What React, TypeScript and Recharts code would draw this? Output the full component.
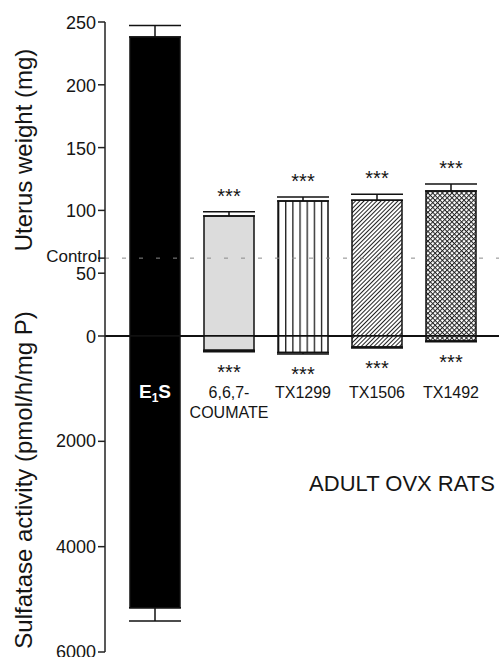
import React from 'react';
import { BarChart, Bar, XAxis, YAxis, ReferenceLine, ErrorBar, Cell, LabelList } from 'recharts';

// Treatment groups (adult OVX rats)
const categories = ['E1S', '6,6,7-COUMATE', 'TX1299', 'TX1506', 'TX1492'];
const nameLines = [['E1S'], ['6,6,7-', 'COUMATE'], ['TX1299'], ['TX1506'], ['TX1492']];

// Upper panel: uterus weight (mg), mean and SEM
const uterusWeight = [238, 95.5, 107.5, 108, 115.5];
const uterusErr = [9.3, 3.5, 3.2, 4.8, 5.6];
const controlWeight = 62;
const uterusTicks = [0, 50, controlWeight, 100, 150, 200, 250];

// Lower panel: sulfatase activity (pmol/h/mg P), mean and SEM
const sulfatase = [5160, 270, 315, 210, 95];
const sulfataseErr = [250, 30, 25, 20, 15];
const sulfataseTicks = [2000, 4000, 6000];

const significance = ['', '***', '***', '***', '***'];

const font = '"Liberation Sans", Arial, Helvetica, sans-serif';
const ink = '#151515';

const uterusData = categories.map((name, i) => ({ name, value: uterusWeight[i], err: [0, uterusErr[i]] }));
const sulfataseData = categories.map((name, i) => ({ name, value: sulfatase[i], err: [0, sulfataseErr[i]] }));

const fillsFor = (p: string) => ['#000', '#dcdcdc', `url(#${p}-vlines)`, `url(#${p}-diag)`, `url(#${p}-cross)`];

const Patterns = ({ prefix }: { prefix: string }) => (
  <defs>
    <pattern id={`${prefix}-vlines`} patternUnits="objectBoundingBox" width={1 / 7} height={1}>
      <rect x={0} y={0} width={20} height={2000} fill="#fff" />
      <line x1={0.6} y1={0} x2={0.6} y2={2000} stroke="#111" strokeWidth={1.3} />
    </pattern>
    <pattern id={`${prefix}-diag`} patternUnits="userSpaceOnUse" width={3} height={3} patternTransform="rotate(45)">
      <rect x={0} y={0} width={3} height={3} fill="#fff" />
      <line x1={0.5} y1={0} x2={0.5} y2={3} stroke="#222" strokeWidth={1} />
    </pattern>
    <pattern id={`${prefix}-cross`} patternUnits="userSpaceOnUse" width={3.4} height={3.4} patternTransform="rotate(45)">
      <rect x={0} y={0} width={3.4} height={3.4} fill="#fff" />
      <line x1={0.5} y1={0} x2={0.5} y2={3.4} stroke="#222" strokeWidth={1} />
      <line x1={0} y1={0.5} x2={3.4} y2={0.5} stroke="#222" strokeWidth={1} />
    </pattern>
  </defs>
);

const barBox = (props: any) => {
  const vb = props.viewBox || {};
  const x = props.x ?? vb.x;
  const y = props.y ?? vb.y;
  const w = props.width ?? vb.width;
  const h = props.height ?? vb.height;
  return { x: Number(x), w: Number(w), top: Math.min(y, y + h), bottom: Math.max(y, y + h), h: Math.abs(h) };
};

const UterusTick = (props: any) => {
  const { x, y, payload } = props;
  const isControl = payload.value === controlWeight;
  return (
    <text
      x={isControl ? x + 5 : x}
      y={y}
      dy={isControl ? 4 : 7}
      textAnchor="end"
      fontSize={isControl ? 17 : 18}
      fill={ink}
      fontFamily={font}
    >
      {isControl ? 'Control' : payload.value}
    </text>
  );
};

const SulfataseTick = (props: any) => {
  const { x, y, payload } = props;
  return (
    <text x={x} y={y} dy={6} textAnchor="end" fontSize={18} fill={ink} fontFamily={font}>
      {payload.value}
    </text>
  );
};

const TopStars = (props: any) => {
  const i = props.index;
  if (!significance[i]) return null;
  const b = barBox(props);
  const errTop = b.top - (uterusErr[i] * b.h) / uterusWeight[i];
  return (
    <text x={b.x + b.w / 2} y={errTop - 20 + 11} textAnchor="middle" fontSize={20} fill={ink} fontFamily={font}>
      {significance[i]}
    </text>
  );
};

const BottomStars = (props: any) => {
  const i = props.index;
  if (!significance[i]) return null;
  const b = barBox(props);
  const errBottom = b.bottom + (sulfataseErr[i] * b.h) / sulfatase[i];
  return (
    <text x={b.x + b.w / 2} y={errBottom + 16 + 11} textAnchor="middle" fontSize={20} fill={ink} fontFamily={font}>
      {significance[i]}
    </text>
  );
};

const GroupName = (props: any) => {
  const i = props.index;
  const b = barBox(props);
  const cx = b.x + b.w / 2;
  const base = b.top + 62;
  if (i === 0) {
    return (
      <text x={cx} y={base} textAnchor="middle" fontSize={19} fontWeight="bold" fill="#fff" fontFamily={font}>
        <tspan>E</tspan>
        <tspan fontSize={12} dy={4}>1</tspan>
        <tspan dy={-4}>S</tspan>
      </text>
    );
  }
  return (
    <text textAnchor="middle" fontSize={16} fill={ink} fontFamily={font}>
      {nameLines[i].map((line, k) => (
        <tspan key={k} x={cx} y={base + k * 20}>
          {line}
        </tspan>
      ))}
    </text>
  );
};

const TopTitle = () => (
  <text transform="translate(32,150) rotate(-90)" textAnchor="middle" fontSize={24} fill={ink} fontFamily={font}>
    Uterus weight (mg)
  </text>
);

// bottom chart svg starts at page y = 270
const BottomTitle = () => (
  <g>
    <text transform="translate(32,210) rotate(-90)" textAnchor="middle" fontSize={24} fill={ink} fontFamily={font}>
      Sulfatase activity (pmol/h/mg P)
    </text>
    <text x={402} y={221} textAnchor="middle" fontSize={22} fill={ink} fontFamily={font}>
      ADULT OVX RATS
    </text>
  </g>
);

const axisStroke = { stroke: '#222', strokeWidth: 1.5 };

export default function App() {
  const topFills = fillsFor('top');
  const bottomFills = fillsFor('bot');
  return (
    <div style={{ position: 'absolute', left: 0, top: 0, width: 499, height: 657, background: '#fff', overflow: 'hidden' }}>
      <div style={{ position: 'absolute', left: 0, top: 0 }}>
        <BarChart width={499} height={346} data={uterusData} margin={{ top: 22, right: 0, bottom: 10, left: 0 }}>
          <Patterns prefix="top" />
          <XAxis
            dataKey="name"
            orientation="top"
            height={0}
            tick={false}
            tickLine={false}
            axisLine={axisStroke}
            padding={{ left: 13, right: 11 }}
          />
          <YAxis
            domain={[0, 250]}
            ticks={uterusTicks}
            interval={0}
            width={105}
            tickSize={7}
            tickMargin={2}
            axisLine={axisStroke}
            tickLine={axisStroke}
            tick={<UterusTick />}
            label={{ content: <TopTitle /> }}
          />
          <ReferenceLine y={controlWeight} stroke="#8a8a8a" strokeDasharray="4 13" />
          <Bar dataKey="value" barSize={50} isAnimationActive={false} stroke="#111" strokeWidth={1.5}>
            {uterusData.map((d, i) => (
              <Cell key={d.name} fill={topFills[i]} />
            ))}
            <ErrorBar dataKey="err" width={26} stroke="#111" strokeWidth={1.5} direction="y" />
            <LabelList dataKey="value" content={<TopStars />} />
          </Bar>
          <ReferenceLine y={0} stroke="#111" strokeWidth={2} />
        </BarChart>
      </div>
      <div style={{ position: 'absolute', left: 0, top: 270 }}>
        <BarChart width={499} height={387} data={sulfataseData} margin={{ top: 66, right: 0, bottom: 5, left: 0 }}>
          <Patterns prefix="bot" />
          <XAxis
            dataKey="name"
            height={0}
            tick={false}
            tickLine={false}
            axisLine={axisStroke}
            padding={{ left: 13, right: 11 }}
          />
          <YAxis
            reversed
            domain={[0, 6000]}
            ticks={sulfataseTicks}
            interval={0}
            width={105}
            tickSize={7}
            tickMargin={2}
            axisLine={axisStroke}
            tickLine={axisStroke}
            tick={<SulfataseTick />}
            label={{ content: <BottomTitle /> }}
          />
          <Bar dataKey="value" barSize={50} isAnimationActive={false} stroke="#111" strokeWidth={1.5}>
            {sulfataseData.map((d, i) => (
              <Cell key={d.name} fill={bottomFills[i]} />
            ))}
            <ErrorBar dataKey="err" width={26} stroke="#111" strokeWidth={1.5} direction="y" />
            <LabelList dataKey="value" content={<BottomStars />} />
            <LabelList dataKey="value" content={<GroupName />} />
          </Bar>
        </BarChart>
      </div>
    </div>
  );
}
